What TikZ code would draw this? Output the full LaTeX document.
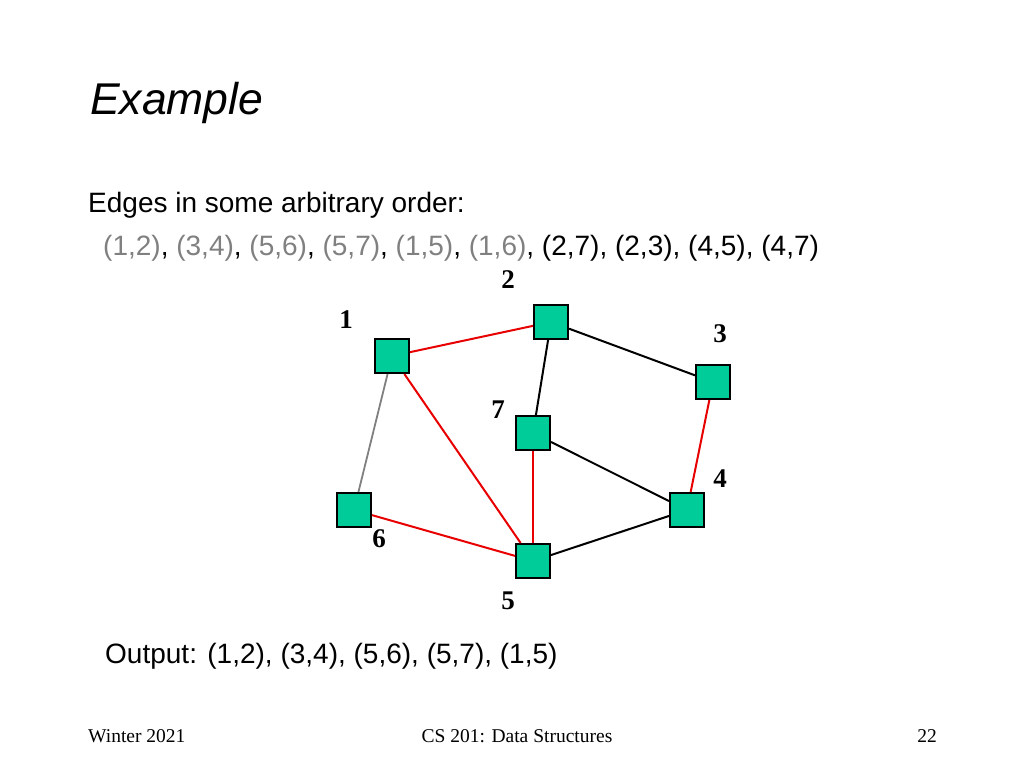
\documentclass[tikz,border=0pt]{standalone}
\usepackage{fontspec}
\setmainfont{Liberation Serif}
\setsansfont{Liberation Sans}
\usepackage{xcolor}
\definecolor{vgreen}{RGB}{0,204,153}
\definecolor{ered}{RGB}{232,0,0}
\definecolor{tgray}{RGB}{128,128,128}

\begin{document}
\begin{tikzpicture}[x=1pt,y=-1pt,
  vert/.style={draw=black,line width=2pt,fill=vgreen,minimum size=34pt,inner sep=0pt},
  vlab/.style={inner sep=0pt,font=\fontsize{27}{27}\selectfont\bfseries},
  tree/.style={ered,line width=2pt},
  edge/.style={black,line width=2pt},
  body/.style={anchor=base west,inner sep=0pt,font=\sffamily\fontsize{28}{32}\selectfont},
  head/.style={anchor=base west,inner sep=0pt,font=\sffamily\itshape\fontsize{44.5}{48}\selectfont},
  foot/.style={anchor=base,inner sep=0pt,font=\fontsize{19.5}{22}\selectfont}]
\useasboundingbox [fill=white] (0,0) rectangle (1024,768);

% title and text
\node [head] (title) at (90,114) {Example};
\node [body] (order) at (88,212) {Edges in some arbitrary order:};
\node [body] (list) at (103,255) {\textcolor{tgray}{(1,2)}, \textcolor{tgray}{(3,4)}, \textcolor{tgray}{(5,6)}, \textcolor{tgray}{(5,7)}, \textcolor{tgray}{(1,5)}, \textcolor{tgray}{(1,6)}, (2,7), (2,3), (4,5), (4,7)};
\node [body] (out) at (105,663) {Output: (1,2), (3,4), (5,6), (5,7), (1,5)};

% vertices
\node [vert] (v1) at (392,356) {};
\node [vert] (v2) at (551,322) {};
\node [vert] (v3) at (713,382) {};
\node [vert] (v4) at (687,510) {};
\node [vert] (v5) at (533,561) {};
\node [vert] (v6) at (354,510) {};
\node [vert] (v7) at (533,433) {};

% labels
\node [vlab] (l1) at (346,320) {1};
\node [vlab] (l2) at (508,280) {2};
\node [vlab] (l3) at (720,334) {3};
\node [vlab] (l4) at (720,479) {4};
\node [vlab] (l5) at (508,601) {5};
\node [vlab] (l6) at (379,539) {6};
\node [vlab] (l7) at (498,410) {7};

% edges
\draw [tree] (v1) -- (v2);
\draw [tree] (v1) -- (v5);
\draw [tree] (v3) -- (v4);
\draw [tree] (v7) -- (v5);
\draw [tree] (v6) -- (v5);
\draw [tgray,line width=1.8pt] (v1) -- (v6);
\draw [edge] (v2) -- (v7);
\draw [edge] (v2) -- (v3);
\draw [edge] (v7) -- (v4);
\draw [edge] (v5) -- (v4);

% footer
\node [foot,anchor=base west] (fl) at (88,742) {Winter 2021};
\node [foot] (fc) at (517,742) {CS 201: Data Structures};
\node [foot,anchor=base east] (fr) at (937,742) {22};

\end{tikzpicture}
\end{document}
